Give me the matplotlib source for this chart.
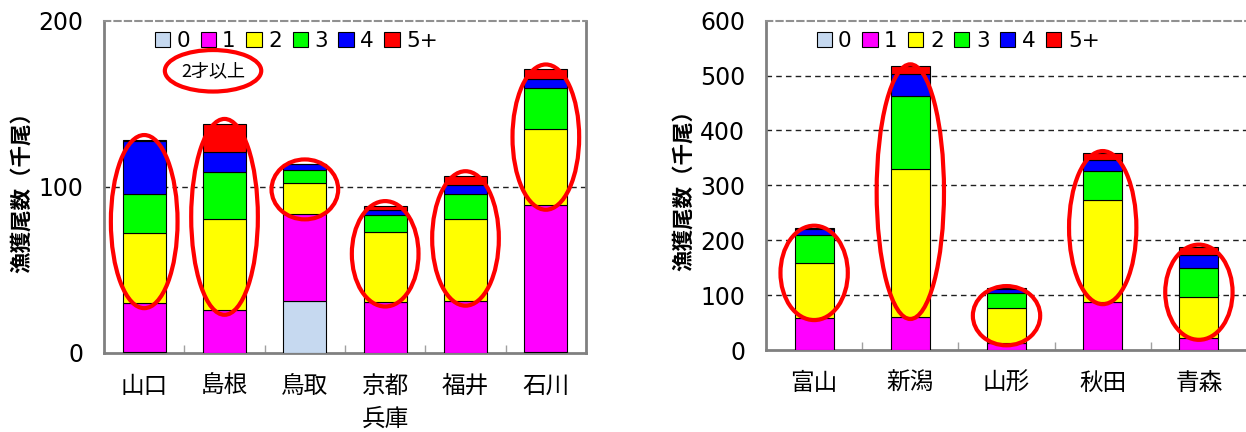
import matplotlib
matplotlib.use('Agg')
import matplotlib.pyplot as plt
from matplotlib.patches import Ellipse
import numpy as np

plt.rcParams['font.family'] = ['DejaVu Sans', 'Noto Sans CJK JP']

# 年齢別の漁獲尾数（千尾）: 西部の府県
west_regions = ['山口', '島根', '鳥取', '京都\n兵庫', '福井', '石川']
west_age0 = [0.5, 0, 31.5, 0, 0, 0.8]
west_age1 = [29.5, 26, 52, 31, 31.5, 88.5]
west_age2 = [42, 55, 19, 42, 49, 45.5]
west_age3 = [24, 28, 7.5, 10, 15.5, 25]
west_age4 = [32, 12, 3.6, 3, 5, 5]
west_age5 = [0.3, 17, 0, 2.5, 5.5, 6]
west_yticks = [0, 100, 200]

# 東部の県
east_regions = ['富山', '新潟', '山形', '秋田', '青森']
east_age0 = [0, 0, 0, 0, 0]
east_age1 = [58, 60, 12, 87, 22]
east_age2 = [101, 269, 65, 187, 74]
east_age3 = [50, 133, 27.5, 52, 53.5]
east_age4 = [12, 41, 6, 20, 24.5]
east_age5 = [2, 14, 2.5, 13, 14.5]
east_yticks = [0, 100, 200, 300, 400, 500, 600]

age_labels = ['0', '1', '2', '3', '4', '5+']
age_colors = ['#C6D9F0', '#FF00FF', '#FFFF00', '#00FF00', '#0000FF', '#FF0000']

CJK = ['Noto Sans CJK JP', 'DejaVu Sans']


def draw_panel(ax, regions, ages, yticks, bar_w, ring_w, ring_pad):
    x = np.arange(len(regions))
    bottom = np.zeros(len(regions))
    for vals, lab, col in zip(ages, age_labels, age_colors):
        ax.bar(x, vals, bar_w, bottom=bottom, color=col, edgecolor='black',
               linewidth=0.8, label=lab, zorder=3)
        bottom += np.array(vals)

    # 2才以上の部分を赤い楕円で囲む
    low = np.array(ages[0]) + np.array(ages[1]) - ring_pad
    high = bottom + ring_pad
    for xi, lo, hi in zip(x, low, high):
        ax.add_patch(Ellipse((xi, (lo + hi) / 2), ring_w, hi - lo, fill=False,
                             edgecolor='#FF0000', linewidth=3, zorder=5))

    ax.set_xlim(-0.5, len(regions) - 0.5)
    ax.set_ylim(yticks[0], yticks[-1])
    ax.set_yticks(yticks)
    ax.set_yticklabels([str(t) for t in yticks], fontsize=17)
    ax.set_xticks(x)
    ax.set_xticklabels(regions, fontsize=17, linespacing=1.45)
    ax.set_xticks(np.arange(len(regions) - 1) + 0.5, minor=True)
    ax.tick_params(axis='x', which='major', length=0, pad=15)
    ax.tick_params(axis='x', which='minor', direction='in', length=6,
                   width=1, color='#A0A0A0')
    ax.tick_params(axis='y', length=0, pad=15)

    for t in yticks[1:-1]:
        ax.axhline(t, color='#202020', linestyle=(0, (4, 3)), linewidth=1, zorder=1)

    for side in ['left', 'bottom', 'right']:
        ax.spines[side].set_color('#808080')
        ax.spines[side].set_linewidth(2)
    ax.spines['top'].set_color('#909090')
    ax.spines['top'].set_linewidth(1.5)
    ax.spines['top'].set_linestyle((0, (3, 2)))

    ax.set_ylabel('漁獲尾数（千尾）', fontsize=15.5, fontweight='bold', family=CJK)
    ax.yaxis.set_label_coords(-0.15, 0.5)

    ax.legend(loc='upper left', bbox_to_anchor=(0.105, 0.97), ncol=6,
              frameon=False, fontsize=15.5, handlelength=0.7, handleheight=0.7,
              handletextpad=0.3, columnspacing=0.5, borderpad=0,
              borderaxespad=0)


fig = plt.figure(figsize=(12.46, 4.32), dpi=100)

ax1 = fig.add_axes([0.0835, 0.1829, 0.3868, 0.7685])
draw_panel(ax1, west_regions,
           [west_age0, west_age1, west_age2, west_age3, west_age4, west_age5],
           west_yticks, 0.535, 0.83, 3)
ax1.text(0.857, 170, '2才以上', fontsize=13, ha='center', va='center',
         family=CJK, zorder=6)
ax1.add_patch(Ellipse((0.857, 170), 1.2, 25, fill=False, edgecolor='#FF0000',
                      linewidth=3, zorder=6))

ax2 = fig.add_axes([0.6148, 0.1898, 0.3860, 0.7623])
draw_panel(ax2, east_regions,
           [east_age0, east_age1, east_age2, east_age3, east_age4, east_age5],
           east_yticks, 0.405, 0.70, 3.5)
ax2.spines['right'].set_visible(False)

fig.savefig('out.png', dpi=100)
